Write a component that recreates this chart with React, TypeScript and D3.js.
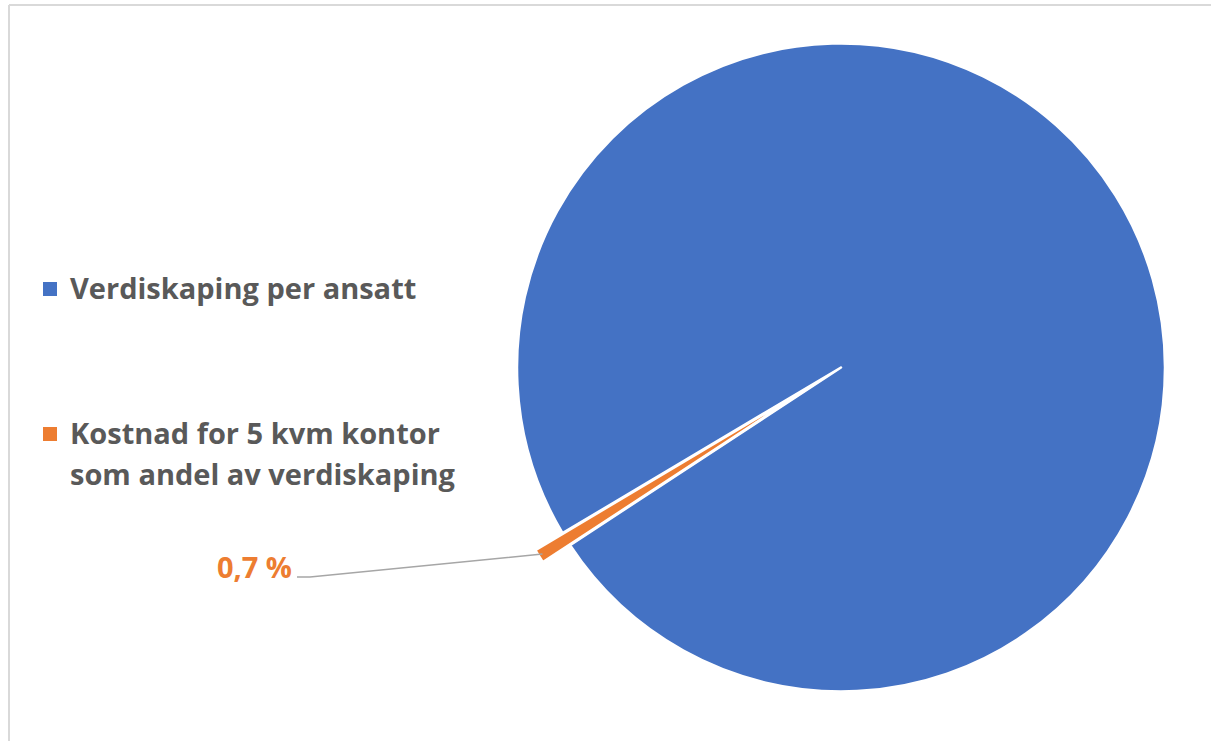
import React from "react";
import * as d3 from "d3";

const categories = ["Verdiskaping per ansatt", "Kostnad for 5 kvm kontor som andel av verdiskaping"];
const values = [99.3, 0.7];
const colors = ["#4472C4", "#ED7D31"];
const legendLines = [["Verdiskaping per ansatt"], ["Kostnad for 5 kvm kontor", "som andel av verdiskaping"]];
const labelText = "0,7 %";

const W = 1211, H = 741;
const cx = 841, cy = 367.5, R = 324;
const explode = 32;
const FONT = "'Open Sans', sans-serif";
const FS = 29;

export default function App() {
  const sliceSpan = (values[1] / d3.sum(values)) * 2 * Math.PI;
  const orangeMid = (238 * Math.PI) / 180;
  const start = orangeMid + sliceSpan / 2;
  const pie = d3.pie<number>().sort(null).value((d) => d).startAngle(start).endAngle(start + 2 * Math.PI);
  const arcs = pie(values);
  const arc = d3.arc<d3.PieArcDatum<number>>().innerRadius(0).outerRadius(R);

  const oa = arcs[1];
  const mid = (oa.startAngle + oa.endAngle) / 2;
  const edgeR = R + explode - 4;
  const lx2 = cx + Math.sin(mid) * edgeR, ly2 = cy - Math.cos(mid) * edgeR;

  return (
    <svg width={W} height={H} style={{ position: "absolute", left: 0, top: 0, background: "#fff" }}>
      <line x1={9} y1={5} x2={W} y2={5} stroke="#d9d9d9" strokeWidth={2} />
      <line x1={9} y1={5} x2={9} y2={H} stroke="#d9d9d9" strokeWidth={2} />
      {arcs.map((a, i) => {
        const m = (a.startAngle + a.endAngle) / 2;
        const dx = i === 1 ? Math.sin(m) * explode : 0;
        const dy = i === 1 ? -Math.cos(m) * explode : 0;
        return (
          <path key={i} d={arc(a) || ""} transform={`translate(${cx + dx},${cy + dy})`} fill={colors[i]} stroke="#fff" strokeWidth={2.5} strokeLinejoin="round" />
        );
      })}
      <polyline points={`297,577 310,577 ${lx2},${ly2}`} fill="none" stroke="#a6a6a6" strokeWidth={1.5} />
      <text x={292} y={578} textAnchor="end" fontFamily={FONT} fontWeight={700} fontSize={FS} fill={colors[1]}>{labelText}</text>
      {legendLines.map((lines, i) => {
        const top = i === 0 ? 299 : 444;
        return (
          <g key={i}>
            <rect x={43} y={top - 17} width={14} height={14} fill={colors[i]} />
            {lines.map((ln, j) => (
              <text key={j} x={70} y={top + j * 41} fontFamily={FONT} fontWeight={700} fontSize={FS} fill="#595959">{ln}</text>
            ))}
          </g>
        );
      })}
    </svg>
  );
}
